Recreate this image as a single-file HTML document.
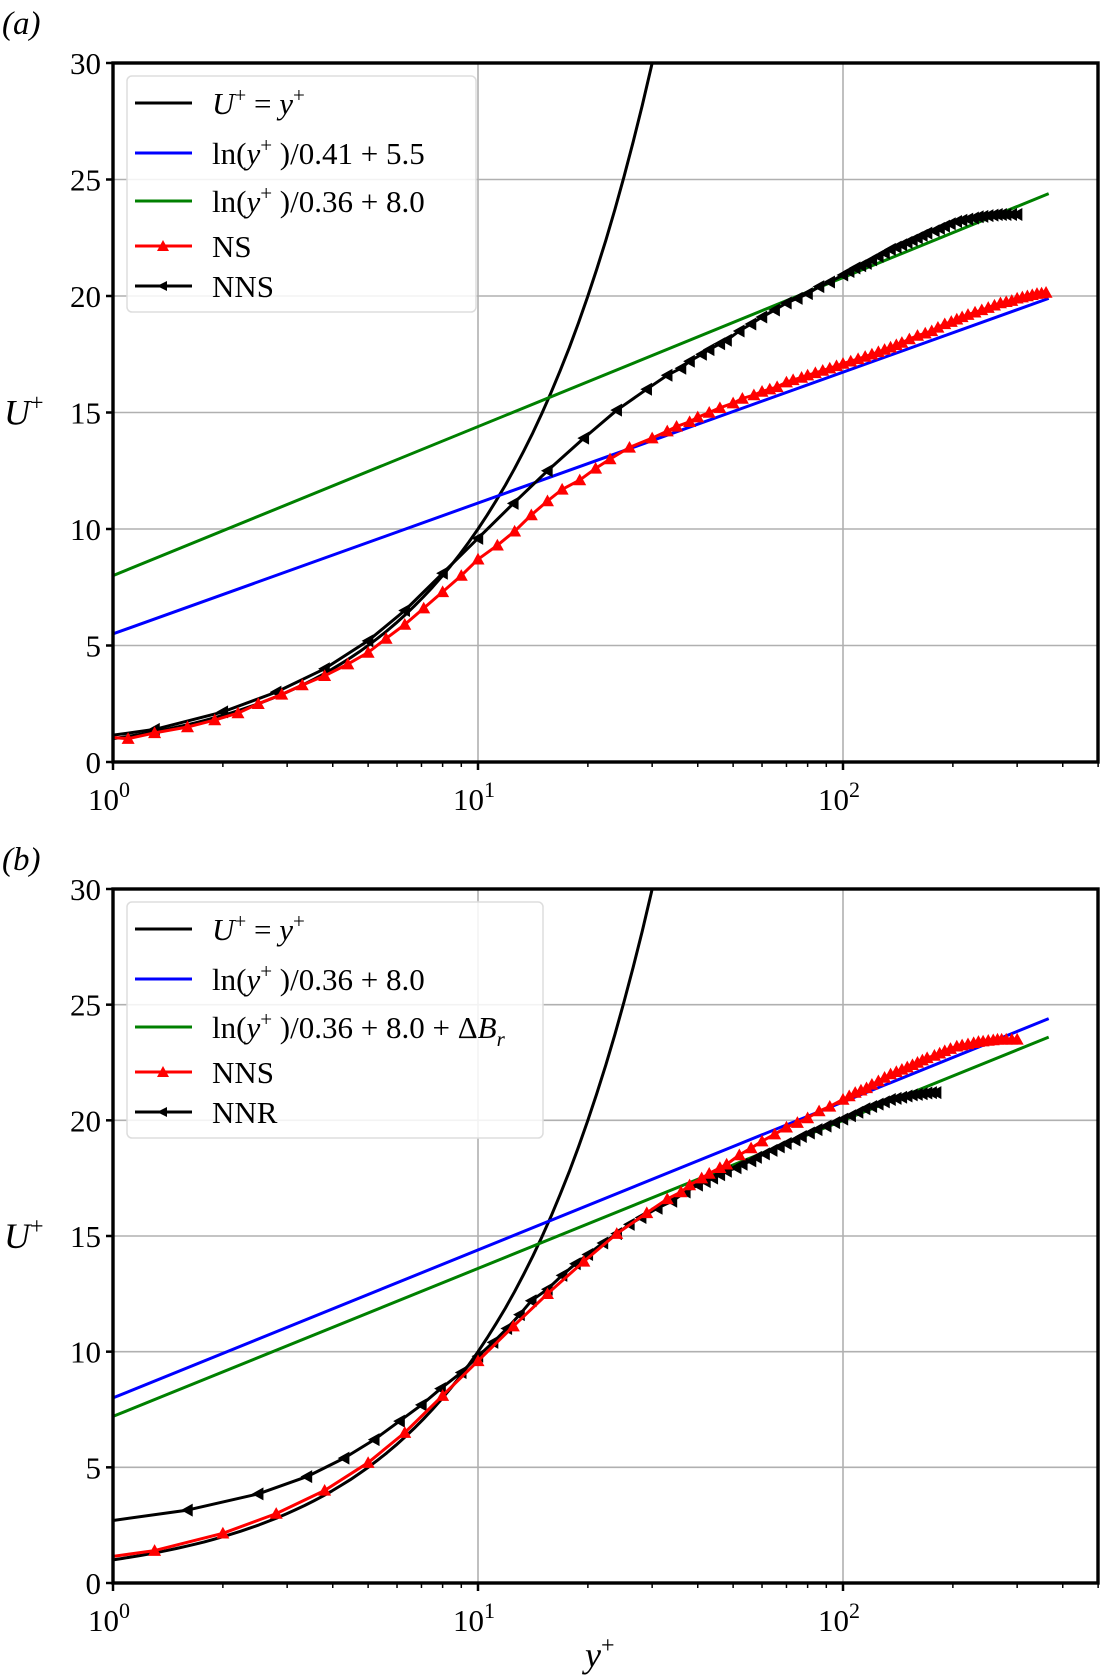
<!DOCTYPE html>
<html><head><meta charset="utf-8">
<style>
html,body{margin:0;padding:0;background:#fff;}
svg{display:block;}
svg text{font-family:"Liberation Serif","DejaVu Serif",serif;}
</style></head>
<body>
<svg id="fig" width="1102" height="1677" viewBox="0 0 1102 1677" xmlns="http://www.w3.org/2000/svg"></svg>
<script>
// ---- data ----
const yTicks = [0,5,10,15,20,25,30];
const xTickExps = [0,1,2];
const nsX = [1.1,1.3,1.6,1.9,2.2,2.5,2.9,3.3,3.8,4.4,5,5.6,6.3,7.1,8,9,10,11.3,12.6,14,15.5,17,19,21,23,26,30,33,35,38,40,43,46,50,53,57,60,63,66,70,73,77,80,84,88,92,96,100,105,110,115,120,125,130,135,140,145,152,160,168,175,182,190,198,205,212,220,230,240,250,260,270,280,290,300,310,320,330,340,350,360];
const nsU = [1.0,1.25,1.5,1.8,2.1,2.5,2.9,3.3,3.7,4.2,4.7,5.3,5.9,6.6,7.3,8.0,8.7,9.3,9.9,10.6,11.2,11.7,12.1,12.6,13.0,13.5,13.9,14.2,14.4,14.6,14.8,15.0,15.2,15.4,15.6,15.75,15.9,16.0,16.1,16.3,16.4,16.5,16.6,16.7,16.8,16.9,17.0,17.1,17.2,17.3,17.4,17.5,17.6,17.7,17.8,17.9,18.0,18.15,18.3,18.4,18.5,18.65,18.8,18.9,19.0,19.1,19.2,19.3,19.4,19.5,19.6,19.7,19.75,19.8,19.9,19.95,20.0,20.05,20.1,20.12,20.15];
const nnsX = [1.3,2,2.8,3.8,5,6.3,8,10,12.5,15.5,19.5,24,29,33,36,38,41,43,46,48,52,56,60,65,70,75,80,86,92,100,104,108,112,116,120,125,130,135,140,145,150,155,160,165,170,178,184,190,197,205,212,220,228,235,242,250,258,265,272,280,290,300];
const nnsU = [1.4,2.15,3.0,4.0,5.2,6.5,8.1,9.6,11.1,12.5,13.9,15.1,16.0,16.6,16.9,17.2,17.5,17.7,17.95,18.1,18.5,18.8,19.1,19.4,19.7,19.9,20.1,20.4,20.6,20.9,21.05,21.2,21.3,21.4,21.55,21.7,21.85,22.0,22.1,22.2,22.3,22.4,22.5,22.6,22.7,22.8,22.9,23.0,23.1,23.2,23.25,23.3,23.35,23.4,23.42,23.45,23.47,23.5,23.5,23.5,23.5,23.5];
const nnsStart = [1,1.15];
const nnrX = [1.6,2.5,3.4,4.3,5.2,6.1,7.0,7.9,9,10,11,12,13,14,15.5,17,18.5,20,22,24,26,28,31,34,37,40,42,44,46,48,51,53,56,58,61,64,67,70,74,77,81,85,90,95,100,105,110,115,120,125,130,135,140,145,150,155,160,165,170,175,180];
const nnrU = [3.15,3.85,4.6,5.4,6.2,7.0,7.7,8.4,9.1,9.8,10.4,11.0,11.6,12.2,12.7,13.3,13.8,14.2,14.7,15.1,15.5,15.8,16.2,16.5,16.9,17.2,17.35,17.5,17.65,17.8,17.95,18.1,18.25,18.4,18.55,18.7,18.85,19.0,19.15,19.3,19.45,19.6,19.75,19.9,20.05,20.2,20.35,20.5,20.6,20.7,20.8,20.9,20.95,21.0,21.05,21.1,21.12,21.15,21.18,21.2,21.2];
const nnrStart = [1,2.7];
const lawA1 = [0.41,5.5];
const lawA2 = [0.36,8.0];
const lawB1 = [0.36,8.0];
const deltaBr = -0.8;
const lawXmax = 366;

const NS="http://www.w3.org/2000/svg";
const svg=document.getElementById('fig');
function el(tag,attrs,parent){const e=document.createElementNS(NS,tag);for(const k in attrs)e.setAttribute(k,attrs[k]);if(tag==='text')e.setAttribute('font-family','Liberation Serif, DejaVu Serif, serif');(parent||svg).appendChild(e);return e;}

const L=113, R=1098, DEC=365;
function panel(top,bottom,name){
  const g=el('g',{});
  
  
  const sx=v=>L+Math.log10(v)*DEC;
  const sy=v=>bottom-(v/30)*(bottom-top);
  const cid='clip'+name;
  const cp=el('clipPath',{id:cid},g);el('rect',{x:L,y:top,width:R-L,height:bottom-top},cp);
  yTicks.forEach(t=>{const l=el('line',{x1:L,x2:R,y1:sy(t),y2:sy(t),stroke:'#b0b0b0','stroke-width':1.6},g);
    });
  xTickExps.forEach(e=>{const l=el('line',{x1:sx(10**e),x2:sx(10**e),y1:top,y2:bottom,stroke:'#b0b0b0','stroke-width':1.6},g);
    });
  return {g,sx,sy,cid,top,bottom};
}
function line(P,xs,ys,color,name,w){
  const d=xs.map((x,i)=>(i?'L':'M')+P.sx(x).toFixed(1)+' '+P.sy(ys[i]).toFixed(1)).join(' ');
  const p=el('path',{d,fill:'none',stroke:color,'stroke-width':w||3,'clip-path':'url(#'+P.cid+')','stroke-linejoin':'round'},P.g);
  
}
function markers(P,xs,ys,color,type,name){
  const g=el('g',{fill:color},P.g);
  
  xs.forEach((x,i)=>{const cx=P.sx(x),cy=P.sy(ys[i]);const s=6.5;
    const pts=type==='up'?`${cx},${cy-s} ${cx-s},${cy+s*0.8} ${cx+s},${cy+s*0.8}`:`${cx-s},${cy} ${cx+s*0.8},${cy-s} ${cx+s*0.8},${cy+s}`;
    const m=el('polygon',{points:pts},g);
    });
}
function logLaw(P,k,B,color,name){
  const xs=[1,lawXmax];line(P,xs,xs.map(x=>Math.log(x)/k+B),color,name);
}
function linear(P,name){
  const xs=[];for(let i=0;i<=60;i++)xs.push(10**(i/60*1.5));
  line(P,xs,xs,'#000',name);
}
function axes(P){
  const {g,sx,sy,top,bottom}=P;
  const f=el('rect',{x:L,y:top,width:R-L,height:bottom-top,fill:'none',stroke:'#000','stroke-width':3.4},g);
  
  yTicks.forEach(t=>{el('line',{x1:L-7,x2:L,y1:sy(t),y2:sy(t),stroke:'#000','stroke-width':2.5},g);
    const tx=el('text',{x:L-12,y:sy(t)+11,'text-anchor':'end','font-size':31},g);tx.textContent=t;
    });
  for(let e=0;e<3;e++)for(let m=1;m<10;m++){const v=m*10**e;const x=sx(v);if(x>R+1)continue;
    el('line',{x1:x,x2:x,y1:bottom,y2:bottom+(m===1?8:5),stroke:'#000','stroke-width':m===1?2.5:1.5},g);}
  xTickExps.forEach(e=>{const t=el('text',{x:sx(10**e)-4,y:bottom+48,'text-anchor':'middle','font-size':31},g);
    t.textContent='10';const s=el('tspan',{dy:-13,'font-size':22},t);s.textContent=e;
    });
  const yl=el('text',{x:4,y:P.sy(15)+12,'font-size':36,'font-style':'italic'},g);yl.textContent='U';
  const ys=el('tspan',{dy:-14,'font-size':24,'font-style':'normal'},yl);ys.textContent='+';
  
}
function legend(P,entries,width,name){
  const g=el('g',{},P.g);
  const x0=127,y0=P.top+13;
  el('rect',{x:x0,y:y0,width,height:236,rx:5,fill:'#fff','fill-opacity':0.85,stroke:'#ddd','stroke-width':1.5},g);
  const rows=[40,90,138,183,223];
  entries.forEach((en,i)=>{const y=P.top+rows[i];
    const eg=el('g',{},g);
    el('line',{x1:135,x2:192,y1:y,y2:y,stroke:en.c,'stroke-width':3},eg);
    if(en.m==='up')el('polygon',{points:`163,${y-6} 157,${y+5} 169,${y+5}`,fill:en.c},eg);
    if(en.m==='left')el('polygon',{points:`157,${y} 167,${y-5} 167,${y+5}`,fill:en.c},eg);
    const t=el('text',{x:212,y:y+11,'font-size':31},eg);t.innerHTML=en.t;});
}
const lnTxt=(k,B,extra)=>`ln(<tspan font-style="italic">y</tspan><tspan dy="-12" font-size="21">+</tspan><tspan dy="12"> )/${k} + ${B}</tspan>${extra||''}`;
const uTxt=`<tspan font-style="italic">U</tspan><tspan dy="-12" font-size="21">+</tspan><tspan dy="12"> = </tspan><tspan font-style="italic">y</tspan><tspan dy="-12" font-size="21">+</tspan>`;

const A=panel(63,762,'panel-a');
linear(A,'linear-law-line');
logLaw(A,lawA1[0],lawA1[1],'#0000ff','log-law-041-line');
logLaw(A,lawA2[0],lawA2[1],'#008000','log-law-036-line');
line(A,[nnsStart[0]].concat(nnsX),[nnsStart[1]].concat(nnsU),'#000','nns-line');
markers(A,nnsX,nnsU,'#000','left','nns-series');
line(A,[1].concat(nsX),[1.05].concat(nsU),'#ff0000','ns-line');
markers(A,nsX,nsU,'#ff0000','up','ns-series');
axes(A);
legend(A,[{c:'#000',t:uTxt},{c:'#0000ff',t:lnTxt('0.41','5.5')},{c:'#008000',t:lnTxt('0.36','8.0')},{c:'#ff0000',t:'NS',m:'up'},{c:'#000',t:'NNS',m:'left'}],349,'legend-a');

const B=panel(889,1583,'panel-b');
linear(B,'linear-law-line');
logLaw(B,lawB1[0],lawB1[1],'#0000ff','log-law-line');
logLaw(B,lawB1[0],lawB1[1]+deltaBr,'#008000','log-law-shifted-line');
line(B,[nnrStart[0]].concat(nnrX),[nnrStart[1]].concat(nnrU),'#000','nnr-line');
markers(B,nnrX,nnrU,'#000','left','nnr-series');
line(B,[nnsStart[0]].concat(nnsX),[nnsStart[1]].concat(nnsU),'#ff0000','nns-line');
markers(B,nnsX,nnsU,'#ff0000','up','nns-series');
axes(B);
legend(B,[{c:'#000',t:uTxt},{c:'#0000ff',t:lnTxt('0.36','8.0')},{c:'#008000',t:lnTxt('0.36','8.0',' + Δ<tspan font-style="italic">B</tspan><tspan dy="8" font-size="21" font-style="italic">r</tspan>')},{c:'#ff0000',t:'NNS',m:'up'},{c:'#000',t:'NNR',m:'left'}],416,'legend-b');

const la=el('text',{x:2,y:34,'font-size':33,'font-style':'italic'});la.textContent='(a)';

const lb=el('text',{x:2,y:870,'font-size':33,'font-style':'italic'});lb.textContent='(b)';

const xl=el('text',{x:585,y:1667,'font-size':36,'font-style':'italic'});xl.textContent='y';
const xs=el('tspan',{dy:-14,'font-size':24,'font-style':'normal'},xl);xs.textContent='+';

</script>
</body></html>
